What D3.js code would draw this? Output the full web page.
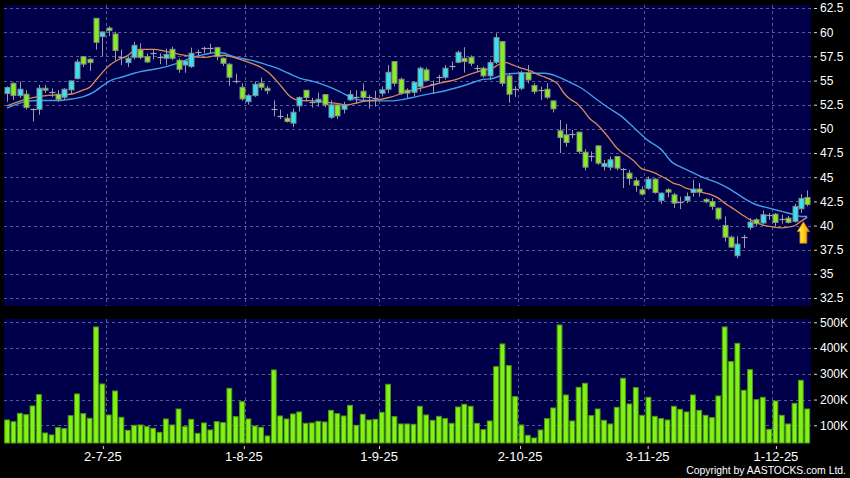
<!DOCTYPE html>
<html><head><meta charset="utf-8">
<script src="https://cdn.jsdelivr.net/npm/d3@7"></script>
<style>html,body{margin:0;padding:0;background:#000;} svg{display:block;}</style>
</head><body>
<svg id="c" width="850" height="478"></svg>
<script>
// ---------- DATA ----------
const open = [53.65,54.72,53.44,53.58,52.05,52.03,54.2,53.8,53.58,53.27,
54.03,55.2,57.47,57.2,61.43,59.54,60.43,59.81,57.47,56.85,
57.4,58.16,57.47,57.8,57.4,57.3,58.23,57.1,56.6,56.44,
58.0,58.4,58.4,58.4,57.3,56.68,54.96,54.3,52.82,53.44,
54.72,54.2,52.1,51.38,51.1,50.59,52.38,53.99,52.8,52.75,
53.55,51.2,52.48,52.03,53.0,53.34,53.89,53.27,53.2,53.68,
54.1,56.96,55.13,54.0,53.79,54.37,56.1,54.65,55.34,55.34,
56.54,56.89,57.3,57.4,56.27,56.27,55.48,56.89,59.02,55.48,
54.1,54.2,55.82,54.48,54.03,54.1,52.89,49.8,49.38,49.48,
49.66,47.59,47.2,48.24,46.1,46.04,47.14,45.83,45.42,44.63,
43.7,43.84,44.8,42.6,43.7,43.18,42.42,42.6,43.42,43.77,
42.7,42.49,41.8,40.01,38.8,36.88,38.81,39.81,40.6,40.26,
41.05,41.18,40.7,40.77,40.43,41.74,42.9];
const close = [54.27,53.44,54.1,52.2,52.05,54.2,54.0,53.8,53.06,54.1,
54.96,56.92,56.7,56.85,58.95,60.02,60.16,58.1,57.47,57.3,
58.64,57.4,56.92,57.8,57.4,57.7,57.3,56.16,57.02,57.82,
58.0,58.4,58.4,57.47,56.78,55.34,54.96,53.1,53.44,54.61,
54.3,53.95,52.1,51.38,50.76,51.72,53.24,53.24,52.8,53.06,
52.48,52.48,51.34,52.48,53.55,53.34,53.24,53.27,53.2,54.03,
55.85,54.72,53.68,53.7,54.82,56.27,55.0,54.65,55.34,56.27,
56.54,57.92,56.96,56.78,56.27,55.48,56.85,59.44,54.72,53.58,
54.1,55.82,55.06,53.86,54.03,53.27,52.07,49.1,48.59,49.48,
47.66,46.04,47.2,46.45,46.42,46.8,45.94,45.83,44.87,44.15,
43.25,44.8,43.42,43.35,43.46,42.32,42.42,43.0,43.77,43.46,
42.46,41.98,40.7,38.8,37.77,38.08,38.81,40.36,40.19,41.12,
41.05,40.32,40.7,40.32,41.98,42.8,42.18];
const high = [54.4,54.8,54.9,54.0,52.1,54.55,54.55,54.2,54.0,54.2,
55.0,57.2,57.5,57.3,61.45,60.1,60.6,60.05,58.2,57.5,
59.0,58.85,57.8,58.2,57.8,58.3,58.5,57.3,57.1,58.4,
58.2,58.5,58.8,58.5,57.4,56.8,55.7,54.7,53.6,54.9,
55.3,54.45,52.95,52.0,51.55,52.1,53.35,54.0,53.2,53.75,
53.6,52.95,52.5,52.8,54.0,54.0,54.7,53.5,53.95,54.4,
56.6,57.0,55.3,54.2,54.9,56.44,56.34,55.0,55.6,56.6,
56.96,58.1,58.44,57.6,56.6,56.44,57.13,59.88,59.1,55.75,
54.4,56.0,56.6,54.72,54.37,54.72,52.95,50.93,50.52,49.9,
49.7,47.9,47.66,48.3,46.8,47.14,47.2,45.94,45.76,44.9,
44.04,45.07,44.9,43.42,43.87,43.35,42.99,43.42,44.73,44.4,
42.84,42.84,41.84,40.94,38.95,38.88,39.05,40.77,40.77,41.56,
41.3,41.3,41.12,41.0,42.25,43.25,43.63];
const low = [52.8,53.0,53.2,52.0,50.76,51.45,53.7,53.3,52.8,53.0,
53.6,55.1,56.4,56.0,58.2,57.5,59.6,57.05,56.6,56.4,
57.2,57.2,56.8,57.2,56.7,56.6,57.1,55.8,55.8,56.3,
57.5,57.8,57.8,57.1,56.5,54.45,54.7,52.9,52.5,53.3,
54.0,53.6,51.3,51.0,50.65,50.17,51.8,52.8,52.2,52.3,
52.24,51.03,51.03,51.6,52.9,52.6,53.0,52.1,52.3,53.34,
53.7,54.4,53.5,53.2,53.35,53.85,54.9,53.6,54.7,55.1,
56.1,56.8,55.82,56.5,55.9,55.3,55.06,56.7,54.4,52.7,
53.3,54.0,54.7,53.6,53.0,53.1,51.7,47.5,48.17,49.03,
47.42,45.7,46.63,46.28,45.7,45.7,45.7,43.87,44.2,43.5,
43.1,43.7,43.28,42.25,42.94,41.8,41.7,42.32,43.0,43.0,
42.32,41.63,40.53,38.36,37.67,36.6,37.67,39.57,39.98,40.1,
40.6,39.9,40.19,40.2,40.3,41.3,41.98];
const volumeK = [120.7,114,146.6,141.4,175.1,219.1,70.2,62.5,91,87,
137.5,221.7,145.3,127.2,481.9,260.5,140.1,233.3,131.1,80.6,
100,101.3,94.8,88.3,72.8,124.6,101.3,163.4,94.8,123.3,
68.9,109.1,81.9,114.2,110.4,243.7,133.7,191.9,124.6,97.4,
92.2,58.6,314.9,136.2,124.6,144,151.8,107.8,109.1,115.5,
112.9,158.2,145.3,136.2,177.7,100,142.7,120.7,123.3,150.5,
259.2,133.7,105.2,105.2,103.9,173.8,140.1,119.4,134.9,125.9,
107.8,171.2,181.6,173.8,107.8,83.2,116.8,327.8,415.9,331.7,
211.3,101.3,61.2,50.8,81.9,125.9,167.3,489.6,217.8,116.8,
247.6,263.1,137.5,163.4,119.4,105.2,169.9,282.5,182.8,246.3,
138.8,208.7,134.9,125.9,120.7,173.8,162.1,151.8,217.8,158.2,
138.8,129.8,213.9,481.9,347.2,418.4,235.9,316.2,199.7,208.7,
84.5,194.5,138.8,105.2,185.4,274.8,163.4];

// moving averages (bar position, value)
const maShortIdx = [0,2.9,4.9,7.9,9.9,12,13,14,15,16,17,18,19,20,21,23.1,25.1,27.1,29.1,31.2,33.2,34.2,35.2,36.2,38.2,40.2,41.3,42.3,43.3,44.3,45.3,46.3,48.3,50.3,52.4,53.4,54.4,56.4,58.4,60.4,62.5,64.5,66.5,68.5,70.5,72.6,74.6,76.6,77.6,78.6,79.6,80.6,82.7,83.7,84.7,85.7,86.7,87.7,88.7,89.7,90.7,91.7,92.8,93.8,94.8,95.8,96.8,97.8,98.8,99.8,100.8,101.8,102.9,103.9,104.9,105.9,106.9,107.9,108.9,109.9,110.9,112,113,114,115,116,117,118,119,120,121,122,123,124,125,126];
const maShort = [52.38,53.06,53.34,53.51,53.58,54.03,54.3,55.06,55.82,56.51,56.96,57.3,57.58,58.1,58.23,58.23,57.99,57.71,57.47,57.4,57.61,57.61,57.47,57.3,56.85,56.27,55.75,55.06,54.3,53.51,53.06,52.93,52.89,52.75,52.58,52.48,52.58,52.86,53.0,53.27,53.75,54.1,54.44,54.79,55.06,55.58,55.99,56.34,56.71,56.85,56.61,56.37,55.92,55.58,55.34,55.06,54.65,53.68,53.06,52.65,51.96,51.1,50.52,49.83,49.04,48.17,47.56,47.14,46.63,45.94,45.7,45.49,45.14,44.8,44.39,44.21,43.87,43.7,43.53,43.35,43.18,42.84,42.32,41.91,41.46,41.01,40.6,40.32,40.05,39.91,39.81,39.77,39.84,39.98,40.43,40.87];
const maLongIdx = [0,2.9,4.9,7.9,9.9,12,13,14,15,16,17,18,20,21,23.1,25.1,27.1,29.1,31.2,33.2,34.2,35.2,36.2,38.2,40.2,41.3,42.3,44.3,46.3,48.3,50.3,52.4,54.4,55.4,56.4,58.4,60.4,62.5,64.5,66.5,68.5,70.5,72.6,74.6,76.6,78.6,80.6,82.7,83.7,84.7,86.7,88.7,90.7,92.8,94.8,96.8,98.8,100.8,102.9,104.9,105.9,107.9,109.9,112,114,116,118,120,122,124,125,126];
const maLong = [52.14,52.82,52.93,52.93,53.06,53.34,53.58,53.96,54.44,54.89,55.17,55.34,55.75,55.92,56.16,56.44,56.85,57.37,57.71,57.89,57.82,57.58,57.4,57.13,56.78,56.54,56.34,55.75,55.2,54.89,54.44,53.86,53.17,53.0,52.93,52.89,52.89,53.06,53.34,53.62,53.86,54.2,54.61,55.06,55.23,55.68,55.75,55.75,55.75,55.75,55.41,54.79,54.1,53.06,52.13,51.27,50.07,48.86,47.93,46.45,46.11,45.49,44.9,44.39,43.7,42.84,42.15,41.8,41.46,41.12,40.94,40.94];

const priceTicks = [32.5,35,37.5,40,42.5,45,47.5,50,52.5,55,57.5,60,62.5];
const volTicksK = [100,200,300,400,500];
const dateLabels = ["2-7-25","1-8-25","1-9-25","2-10-25","3-11-25","1-12-25"];
const dateTickIdx = [15,37.2,58.5,80.7,100.8,121];
const dateGridIdx = [15.5,37.5,58.5,80.5,100.35,120.4];
const signalIdx = [125.4], signalPrice = [40.4];

// ---------- LAYOUT ----------
const W=850,H=478, L=4, R=811, pT=5, pB=306, vT=319, vB=443;
const BG="#00004a", GRID="#5a5a8e";
const svg=d3.select("#c");
svg.append("rect").attr("width",W).attr("height",H).attr("fill","#000");

const x=d3.scaleLinear().domain([0,126]).range([7.1,807.2]);
const y=d3.scaleLinear().domain([31.68,62.81]).range([pB,pT]);
const yv=d3.scaleLinear().domain([31.3,512.8]).range([vB,vT]);

svg.append("rect").attr("x",L).attr("y",pT).attr("width",R-L).attr("height",pB-pT).attr("fill",BG);
svg.append("rect").attr("x",L).attr("y",vT).attr("width",R-L).attr("height",vB-vT).attr("fill",BG);

// grids
const g=svg.append("g").attr("stroke",GRID).attr("stroke-width",1).attr("stroke-dasharray","3,3").attr("fill","none");
g.selectAll(".hp").data(priceTicks).join("line")
 .attr("x1",L).attr("x2",R).attr("y1",d=>Math.round(y(d))+0.5).attr("y2",d=>Math.round(y(d))+0.5);
g.selectAll(".hv").data(volTicksK).join("line").attr("class","hv")
 .attr("x1",L).attr("x2",R).attr("y1",d=>Math.round(yv(d))+0.5).attr("y2",d=>Math.round(yv(d))+0.5);
g.selectAll(".vp").data(dateGridIdx).join("line").attr("class","vp")
 .attr("x1",d=>Math.round(x(d))+0.5).attr("x2",d=>Math.round(x(d))+0.5).attr("y1",pT).attr("y2",pB);
g.selectAll(".vv").data(dateGridIdx).join("line").attr("class","vv")
 .attr("x1",d=>Math.round(x(d))+0.5).attr("x2",d=>Math.round(x(d))+0.5).attr("y1",vT).attr("y2",vB);

// volume bars
const idx=d3.range(open.length);
svg.append("g").selectAll("rect").data(idx).join("rect")
 .attr("x",i=>x(i)-2.4).attr("width",4.8)
 .attr("y",i=>yv(volumeK[i])).attr("height",i=>vB-yv(volumeK[i]))
 .attr("fill","#80f218").attr("stroke","#4e9a0c").attr("stroke-width",1);

// MA lines
svg.append("clipPath").attr("id","cp").append("rect").attr("x",L).attr("y",pT).attr("width",R-L).attr("height",pB-pT);
const line=d3.line().x(d=>x(d[0])).y(d=>y(d[1])).curve(d3.curveMonotoneX);
const maG=svg.append("g").attr("clip-path","url(#cp)").attr("fill","none");
maG.append("path").attr("d",line(maLongIdx.map((v,i)=>[v,maLong[i]]))).attr("stroke","#3f9fe6").attr("stroke-width",1.4);
maG.append("path").attr("d",line(maShortIdx.map((v,i)=>[v,maShort[i]]))).attr("stroke","#dc8a5a").attr("stroke-width",1.3);

// candles
const cg=svg.append("g");
cg.selectAll("line.w").data(idx).join("line").attr("class","w")
 .attr("x1",i=>Math.round(x(i))+0.5).attr("x2",i=>Math.round(x(i))+0.5)
 .attr("y1",i=>y(high[i])).attr("y2",i=>y(low[i]))
 .attr("stroke","#9a9aaa").attr("stroke-width",1);
cg.selectAll("rect.b").data(idx.filter(i=>open[i]!==close[i])).join("rect").attr("class","b")
 .attr("x",i=>Math.round(x(i))-2).attr("width",5)
 .attr("y",i=>y(Math.max(open[i],close[i])))
 .attr("height",i=>Math.max(1,Math.abs(y(open[i])-y(close[i]))))
 .attr("fill",i=>close[i]>open[i]?"#33e3f3":"#84ee1e")
 .attr("stroke","#8a8a8a").attr("stroke-width",1);
cg.selectAll("line.d").data(idx.filter(i=>open[i]===close[i])).join("line").attr("class","d")
 .attr("x1",i=>Math.round(x(i))-2.5).attr("x2",i=>Math.round(x(i))+3.5)
 .attr("y1",i=>Math.round(y(open[i]))+0.5).attr("y2",i=>Math.round(y(open[i]))+0.5)
 .attr("stroke","#a0a0b0").attr("stroke-width",1.2);

// signal arrow
const defs=svg.append("defs");
const gr=defs.append("linearGradient").attr("id","ag").attr("x1","0").attr("x2","1").attr("y1","0").attr("y2","0");
gr.append("stop").attr("offset","0").attr("stop-color","#fff09a");
gr.append("stop").attr("offset","0.45").attr("stop-color","#ffd21c");
gr.append("stop").attr("offset","1").attr("stop-color","#e89a00");
svg.selectAll("path.sig").data(signalIdx).join("path").attr("class","sig")
 .attr("transform",(d,i)=>`translate(${x(d)},${y(signalPrice[i])})`)
 .attr("d","M0,0 L6.2,10 L3.5,10 L3.5,21.6 L-3.5,21.6 L-3.5,10 L-6.2,10 Z")
 .attr("fill","url(#ag)").attr("stroke","#b86e00").attr("stroke-width",0.8);

// axes
const axFont="'Liberation Sans', Arial, sans-serif";
function styleAxis(sel){
  sel.select(".domain").remove();
  sel.selectAll(".tick line").attr("stroke","#d8d8d8");
  sel.selectAll(".tick text").attr("fill","#ffffff").style("font-family",axFont);
}
const ay=svg.append("g").attr("transform",`translate(814,0)`)
 .call(d3.axisRight(y).tickValues(priceTicks).tickSize(3).tickPadding(3).tickFormat(d=>String(d)));
styleAxis(ay); ay.selectAll(".tick text").style("font-size","12px");
const av=svg.append("g").attr("transform",`translate(814,0)`)
 .call(d3.axisRight(yv).tickValues(volTicksK).tickSize(3).tickPadding(3).tickFormat(d=>d+"K"));
styleAxis(av); av.selectAll(".tick text").style("font-size","12px");
const ax=svg.append("g").attr("transform",`translate(0,${vB+3})`)
 .call(d3.axisBottom(x).tickValues(dateTickIdx).tickSize(3).tickPadding(3).tickFormat((d,i)=>dateLabels[i]));
styleAxis(ax); ax.selectAll(".tick text").style("font-size","13px");
ax.selectAll(".tick line").attr("transform","translate(0.5,0)");

svg.append("text").attr("x",846).attr("y",473.5).attr("text-anchor","end")
 .attr("fill","#ffffff").style("font-family",axFont).style("font-size","10.4px")
 .text("Copyright by AASTOCKS.com Ltd.");
</script>
</body></html>
